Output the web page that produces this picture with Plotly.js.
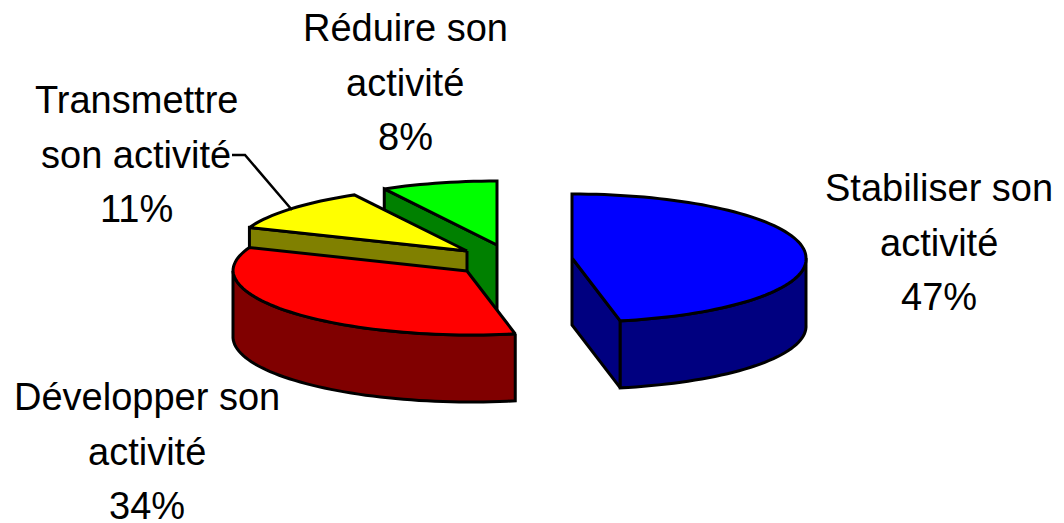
<!DOCTYPE html>
<html>
<head>
<meta charset="utf-8">
<script src="https://cdn.plot.ly/plotly-3.0.1.min.js"></script>
<style>html,body{margin:0;padding:0;background:#fff}#chart{width:1064px;height:523px}</style>
</head>
<body>
<div id="chart"></div>
<script>
// Data
const categories = ["Stabiliser son activité", "Développer son activité", "Transmettre son activité", "Réduire son activité"];
const values = [47, 34, 11, 8];
const labelLines = [
  ["Stabiliser son", "activité", "47%"],
  ["Développer son", "activité", "34%"],
  ["Transmettre", "son activité", "11%"],
  ["Réduire son", "activité", "8%"]
];
const topColors = ["#0000FF", "#FF0000", "#FFFF00", "#00FF00"];
const sideColors = ["#000080", "#800000", "#808000", "#008000"];

// Layout of the exploded slices and of the labels, in picture pixels
const apexX = [572, 467, 467, 497];
const apexY = [258, 271, 251, 245];
const labelX = [939, 147, 136, 405];
const labelY = [188, 397, 100, 28];
const lineStep = 54.5;
const rx = 234, ry = 64, depth = 67, frontSkew = 0.07;
const leaderX = [232, 245, 292];
const leaderY = [155, 155, 210];

const rad = d => d * Math.PI / 180;
const total = values.reduce((a, b) => a + b, 0);
function rimPoint(i, deg, drop) {
  const c = Math.cos(rad(deg));
  const dy = -ry * c;
  return [apexX[i] + rx * Math.sin(rad(deg)) + frontSkew * Math.max(0, dy), apexY[i] + dy + drop];
}
function arc(i, a, b, drop) {
  const pts = [];
  const n = Math.max(2, Math.ceil(Math.abs(b - a) / 2));
  for (let k = 0; k <= n; k++) pts.push(rimPoint(i, a + (b - a) * k / n, drop));
  return pts;
}
function poly(pts, color) {
  return {
    type: "scatter", mode: "lines", fill: "toself", fillcolor: color,
    x: pts.map(p => p[0]).concat([pts[0][0]]),
    y: pts.map(p => p[1]).concat([pts[0][1]]),
    line: { color: "#000", width: 3, simplify: false },
    hoverinfo: "skip", showlegend: false
  };
}

// Slice angles (clockwise from 12 o'clock)
const starts = [], ends = [];
values.reduce((acc, v, i) => { starts[i] = acc; ends[i] = acc + v / total * 360; return ends[i]; }, 0);

const slices = values.map((v, i) => {
  const s = starts[i], e = ends[i], out = [];
  const apex = [apexX[i], apexY[i]];
  const apexLow = [apexX[i], apexY[i] + depth];
  // flat cut faces turned towards the viewer
  if (Math.cos(rad(s - 90)) < -1e-6) {
    const a = rimPoint(i, s, 0), b = rimPoint(i, s, depth);
    out.push(poly([apex, a, b, apexLow], sideColors[i]));
  }
  if (Math.cos(rad(e + 90)) < -1e-6) {
    const a = rimPoint(i, e, 0), b = rimPoint(i, e, depth);
    out.push(poly([apex, a, b, apexLow], sideColors[i]));
  }
  // outer wall: front half of the rim only
  const lo = Math.max(s, 90), hi = Math.min(e, 270);
  if (hi > lo) {
    out.push(poly(arc(i, lo, hi, 0).concat(arc(i, hi, lo, depth)), sideColors[i]));
  }
  // top face
  out.push(poly([apex].concat(arc(i, s, e, 0)), topColors[i]));
  return out;
});

// Back-to-front order: green, yellow, red, blue
const traces = [].concat(slices[3], slices[2], slices[1], slices[0]);
traces.push({
  type: "scatter", mode: "lines", x: leaderX, y: leaderY,
  line: { color: "#000", width: 2.5 }, hoverinfo: "skip", showlegend: false
});

const annotations = [];
labelLines.forEach((lines, i) => lines.forEach((t, k) => annotations.push({
  x: labelX[i], y: labelY[i] + k * lineStep, xref: "x", yref: "y",
  text: t, showarrow: false, xanchor: "center", yanchor: "middle",
  font: { family: "Liberation Sans, Arial, sans-serif", size: 38, color: "#000" }
})));

const hidden = { visible: false, fixedrange: true };
Plotly.newPlot("chart", traces, {
  width: 1064, height: 523,
  margin: { l: 0, r: 0, t: 0, b: 0 },
  paper_bgcolor: "#fff", plot_bgcolor: "#fff",
  xaxis: Object.assign({ range: [0, 1064] }, hidden),
  yaxis: Object.assign({ range: [523, 0] }, hidden),
  annotations: annotations, showlegend: false
}, { displayModeBar: false, staticPlot: true });
</script>
</body>
</html>
